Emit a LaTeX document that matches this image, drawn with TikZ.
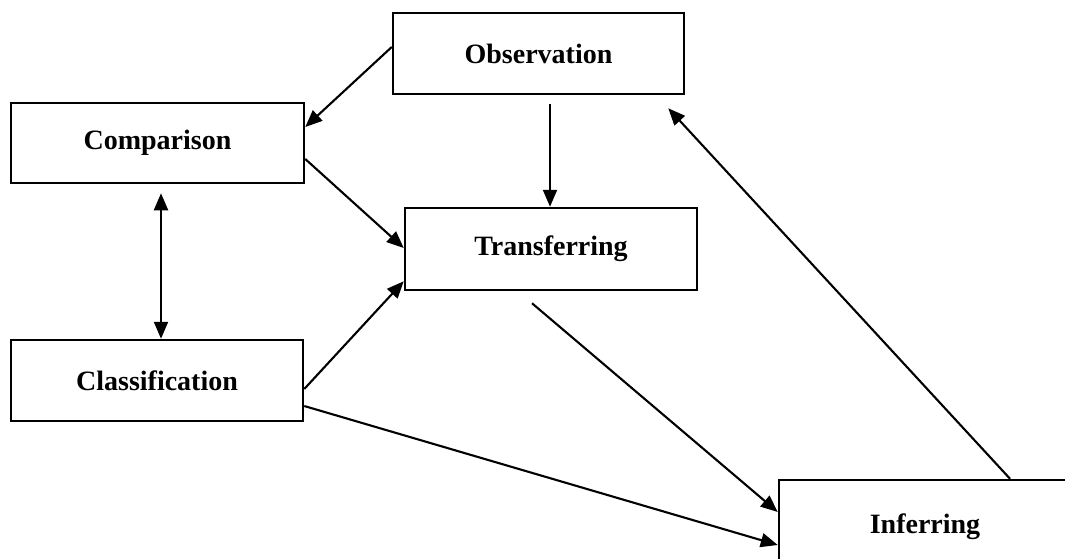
\documentclass[tikz,border=0pt]{standalone}
\usepackage{fontspec}
\setmainfont{Liberation Serif}
\usetikzlibrary{arrows.meta}
\begin{document}
\begin{tikzpicture}[x=1pt,y=-1pt,
  box/.style={draw=black,line width=2.5pt,rectangle,inner sep=0pt,
    font=\bfseries\fontsize{28}{34}\selectfont},
  conn/.style={line width=2.1pt,-{Triangle[length=17pt,width=14pt]}},
  both/.style={line width=2.1pt,{Triangle[length=17pt,width=14pt]}-{Triangle[length=17pt,width=14pt]}}]
\clip (0,0) rectangle (1065,558);
\fill[white] (0,0) rectangle (1065,558);
\node[box,minimum width=291pt,minimum height=81pt] (obs) at (538.5,53.5) {Observation};
\node[box,minimum width=293pt,minimum height=80pt] (comp) at (157.5,143) {Comparison};
\node[box,minimum width=292pt,minimum height=82pt] (trans) at (551,249) {Transferring};
\node[box,minimum width=292pt,minimum height=81pt] (class) at (157,380.5) {Classification};
\node[box,minimum width=292pt,minimum height=94pt] (infer) at (925,527) {Inferring};
\draw[conn] ([yshift=6.5pt]obs.west) -- ([yshift=16pt]comp.east);
\draw[conn] ([yshift=-16pt]comp.east) -- ([yshift=1pt]trans.west);
\draw[conn] ([xshift=11.5pt,yshift=-9pt]obs.south) -- ([xshift=-1pt]trans.north);
\draw[both] ([xshift=3.5pt,yshift=-9pt]comp.south) -- ([xshift=4pt]class.north);
\draw[conn] ([yshift=-8.5pt]class.east) -- ([yshift=10pt]trans.south west);
\draw[conn] ([yshift=-25.5pt]class.east) -- ([yshift=-18pt]infer.west);
\draw[conn] ([xshift=-19pt,yshift=-12pt]trans.south) -- ([yshift=15pt]infer.west);
\draw[conn] ([xshift=85pt]infer.north) -- ([xshift=-17pt,yshift=-13pt]obs.south east);
\end{tikzpicture}
\end{document}
